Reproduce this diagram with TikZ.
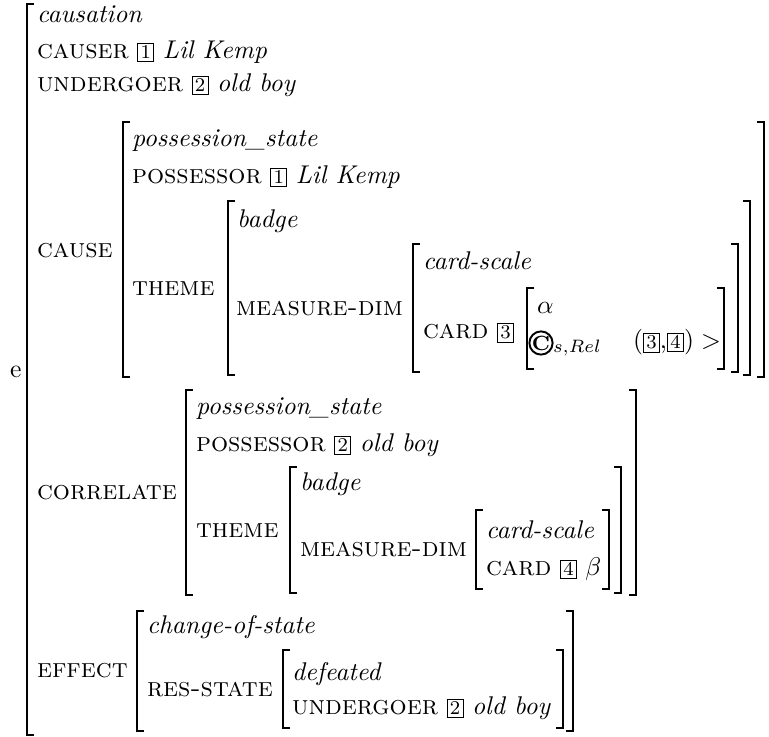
\documentclass[tikz,border=0pt]{standalone}
\newcommand\tagbox[1]{{\setlength\fboxsep{0.9pt}\setlength\fboxrule{0.4pt}\fbox{\fontsize{7.6}{8}\selectfont #1}}}
% feature names in small capitals
\newcommand\feat[1]{{\fontsize{10.5}{12.5}\selectfont\textsc{#1}}}
% left and right square brackets: x, top, bottom
\newcommand\lbr[3]{\draw[brk] (#1+7,#2) -- (#1,#2) -- (#1,#3) -- (#1+7,#3);}
\newcommand\rbr[3]{\draw[brk] (#1-7,#2) -- (#1,#2) -- (#1,#3) -- (#1-7,#3);}
\tikzset{
  txt/.style={anchor=base west, inner sep=0pt, outer sep=0pt},
  brk/.style={line width=0.75pt, line join=miter},
}
\begin{document}
\begin{tikzpicture}[x=0.3901pt, y=-0.3901pt]
\useasboundingbox (0,0) rectangle (769,737);

% outer structure
\node[txt] (e) at (10,378) {e};
\lbr{27}{4}{735}
\node[txt] (causation) at (37,23) {\textit{causation}};
\node[txt] (causer) at (37,59) {\feat{causer} \tagbox{1} \textit{Lil Kemp}};
\node[txt] (undergoer) at (37,92) {\feat{undergoer} \tagbox{2} \textit{old boy}};

% CAUSE
\node[txt] (cause) at (37,258) {\feat{cause}};
\lbr{123}{122}{377} \rbr{764}{122}{377}
\node[txt] (ps1) at (132,147) {\textit{possession\_state}};
\node[txt] (poss1) at (132,184) {\feat{possessor} \tagbox{1} \textit{Lil Kemp}};
\node[txt] (theme1) at (132,296) {\feat{theme}};
\lbr{228}{201}{375} \rbr{750}{201}{375}
\node[txt] (badge1) at (237,228) {\textit{badge}};
\node[txt] (md1) at (236,316) {\feat{measure-dim}};
\lbr{413}{244}{372} \rbr{738}{244}{372}
\node[txt] (cs1) at (423,270) {\textit{card-scale}};
\node[txt] (card1) at (423,339) {\feat{card} \tagbox{3}};
\lbr{527}{288}{369} \rbr{724}{288}{369}
\node[txt] (alpha) at (537,314) {$\alpha$};
\node[circle, draw, line width=0.75pt, inner sep=0pt, minimum size=6.4pt,
      font=\bfseries\footnotesize] (circ) at (541,343) {C};
\node[txt] (rel) at (553,349) {$_{s,Rel}$};
\node[txt] (args) at (633,349) {(\tagbox{3},\tagbox{4})};
\node[txt] (gt) at (701,349) {$>$};

% CORRELATE
\node[txt] (correlate) at (37,500) {\feat{correlate}};
\lbr{186}{390}{595} \rbr{636}{390}{595}
\node[txt] (ps2) at (196,415) {\textit{possession\_state}};
\node[txt] (poss2) at (196,452) {\feat{possessor} \tagbox{2} \textit{old boy}};
\node[txt] (theme2) at (196,538) {\feat{theme}};
\lbr{290}{467}{593} \rbr{621}{467}{593}
\node[txt] (badge2) at (300,491) {\textit{badge}};
\node[txt] (md2) at (300,557) {\feat{measure-dim}};
\lbr{476}{510}{589} \rbr{609}{510}{589}
\node[txt] (cs2) at (486,539) {\textit{card-scale}};
\node[txt] (card2) at (486,576) {\feat{card} \tagbox{4} $\beta$};

% EFFECT
\node[txt] (effect) at (37,678) {\feat{effect}};
\lbr{137}{611}{731} \rbr{573}{611}{731}
\node[txt] (cos) at (147,634) {\textit{change-of-state}};
\node[txt] (res) at (147,696) {\feat{res-state}};
\lbr{283}{650}{728} \rbr{563}{650}{728}
\node[txt] (def) at (292,680) {\textit{defeated}};
\node[txt] (und2) at (292,715) {\feat{undergoer} \tagbox{2} \textit{old boy}};
\end{tikzpicture}
\end{document}
